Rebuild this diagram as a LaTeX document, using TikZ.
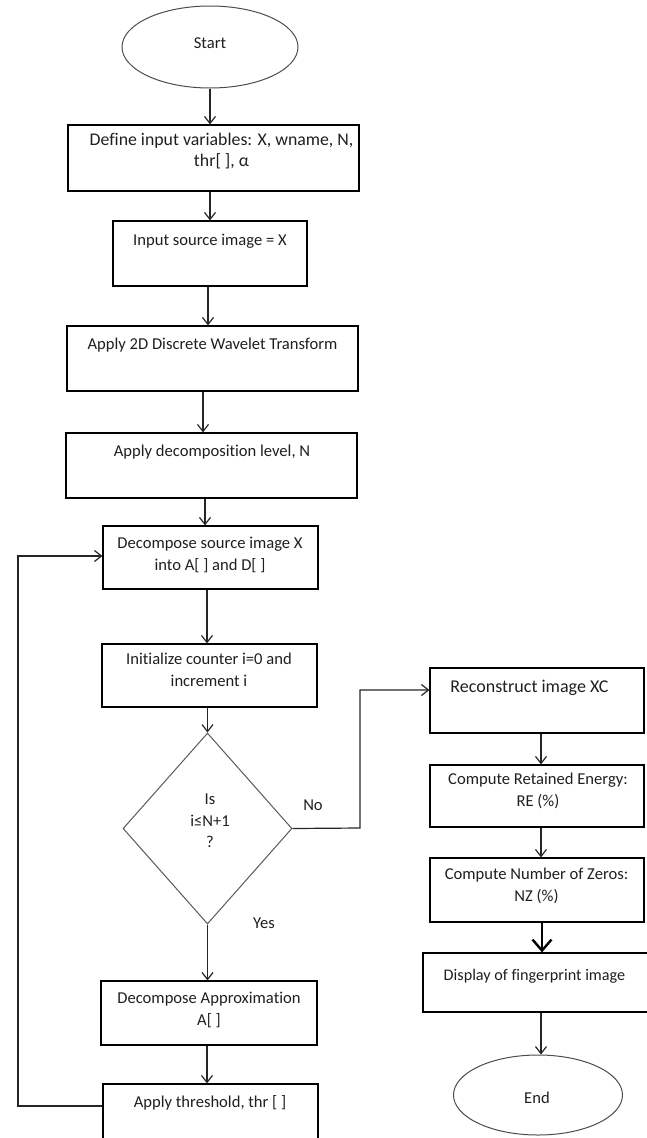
\documentclass[tikz,border=0pt]{standalone}
\usepackage{fontspec}
\setmainfont{Carlito}[Ligatures=NoCommon]
\usetikzlibrary{shapes.geometric,arrows.meta}
\begin{document}
\begin{tikzpicture}[x=1pt,y=-1pt,
  box/.style={draw=black, line width=1.2pt, rectangle, inner sep=0pt},
  oval/.style={draw=black!70, line width=1pt, ellipse, inner sep=0pt},
  dec/.style={draw=black!65, line width=1pt, diamond, inner sep=0pt},
  txt/.style={anchor=north, inner sep=0pt, align=center, text=black!88,
    font=\fontsize{16.6}{21.5}\selectfont, execute at begin node=\strut},
  bigtxt/.style={txt, font=\fontsize{17.8}{20.5}\selectfont},
  arr/.style={draw=black!85, line width=1.2pt,
    -{Straight Barb[length=7pt,width=11pt,line width=1.2pt]}},
  arrth/.style={draw=black, line width=2.4pt,
    -{Straight Barb[length=11pt,width=19pt,line width=2.4pt]}},
]
\useasboundingbox (0,0) rectangle (646,1138);

% shapes
\node[oval, minimum width=176pt, minimum height=82pt] (start) at (210,47) {};
\node[box, minimum width=291pt, minimum height=66pt] (b1) at (213.5,158) {};
\node[box, minimum width=194pt, minimum height=65pt] (b2) at (210,253.5) {};
\node[box, minimum width=291pt, minimum height=65pt] (b3) at (212.5,358.5) {};
\node[box, minimum width=291pt, minimum height=65pt] (b4) at (211.5,465.5) {};
\node[box, minimum width=215pt, minimum height=63pt] (b5) at (210.5,557.5) {};
\node[box, minimum width=215pt, minimum height=63pt] (b6) at (209.5,675.5) {};
\node[dec, minimum width=169pt, minimum height=191pt] (dia) at (207.5,828.5) {};
\node[box, minimum width=216pt, minimum height=64pt] (b9) at (209,1013) {};
\node[box, minimum width=215pt, minimum height=64pt] (b10) at (210.5,1116) {};
\node[box, minimum width=214pt, minimum height=65pt] (b8) at (537,700.5) {};
\node[box, minimum width=214pt, minimum height=62pt] (re) at (537,796) {};
\node[box, minimum width=214pt, minimum height=64pt] (nz) at (537,890) {};
\node[box, minimum width=225pt, minimum height=59pt] (disp) at (535.5,982.5) {};
\node[oval, minimum width=169pt, minimum height=80pt] (end) at (538,1095) {};

% texts
\node[txt] (tstart) at (210,33) {Start};
\node[bigtxt] (t1) at (221.5,133) {Define input variables: X, wname, N,\\thr[ ], α};
\node[txt] (t2) at (210,230) {Input source image = X};
\node[txt] (t3) at (212.5,334) {Apply 2D Discrete Wavelet Transform};
\node[txt] (t4) at (212,441) {Apply decomposition level, N};
\node[txt] (t5) at (210,537) {Decompose source image X\\into A[ ] and D[ ]};
\node[txt] (t6) at (209,653) {Initialize counter i=0 and\\increment i};
\node[txt] (tdia) at (210,794) {Is\\i≤N+1\\?};
\node[txt] (t9) at (209,992) {Decompose Approximation\\A[ ]};
\node[txt] (t10) at (210,1092) {Apply threshold, thr [ ]};
\node[bigtxt, font=\fontsize{18}{21.5}\selectfont] (t8) at (529.5,677) {Reconstruct image XC};
\node[txt] (tre) at (538,773) {Compute Retained Energy:\\RE (\%)};
\node[txt] (tnz) at (536.5,868) {Compute Number of Zeros:\\NZ (\%)};
\node[txt, font=\fontsize{16.2}{21.5}\selectfont] (tdisp) at (534.5,965) {Display of fingerprint image};
\node[txt] (tend) at (537,1088) {End};
\node[txt] (tno) at (313,795) {No};
\node[txt] (tyes) at (264,913) {Yes};

% connectors
\draw[arr] (start.south) -- (start.south |- b1.north);
\draw[arr] ([xshift=-3.5pt]b1.south) -- ([xshift=-3.5pt]b1.south |- b2.north);
\draw[arr] ([xshift=-2pt]b2.south) -- ([xshift=-2pt]b2.south |- b3.north);
\draw[arr] ([xshift=-9.5pt]b3.south) -- ([xshift=-9.5pt]b3.south |- b4.north);
\draw[arr] ([xshift=-6.5pt]b4.south) -- ([xshift=-6.5pt]b4.south |- b5.north);
\draw[arr] ([xshift=-3.5pt]b5.south) -- ([xshift=-3.5pt]b5.south |- b6.north);
\draw[arr] (b6.south -| dia.north) -- (dia.north);
\draw[arr] (dia.south) -- (dia.south |- b9.north);
\draw[arr] ([xshift=-2pt]b9.south) -- ([xshift=-2pt]b9.south |- b10.north);
\coordinate (lp) at (18,1106);
\draw[arr] ([yshift=10pt]b10.west) -- (lp) |- ([yshift=1.5pt]b5.west);
\coordinate (nc) at (360,828);
\draw[arr] (dia.east) -- (nc) |- ([yshift=10.5pt]b8.west);
\draw[arr] ([xshift=4pt]b8.south) -- ([xshift=4pt]b8.south |- re.north);
\draw[arr] ([xshift=4pt]re.south) -- ([xshift=4pt]re.south |- nz.north);
\draw[arrth] ([xshift=5pt]nz.south) -- ([xshift=5pt]nz.south |- disp.north);
\draw[arr] ([xshift=5.5pt]disp.south) -- ([xshift=5.5pt]disp.south |- end.north);
\end{tikzpicture}
\end{document}
